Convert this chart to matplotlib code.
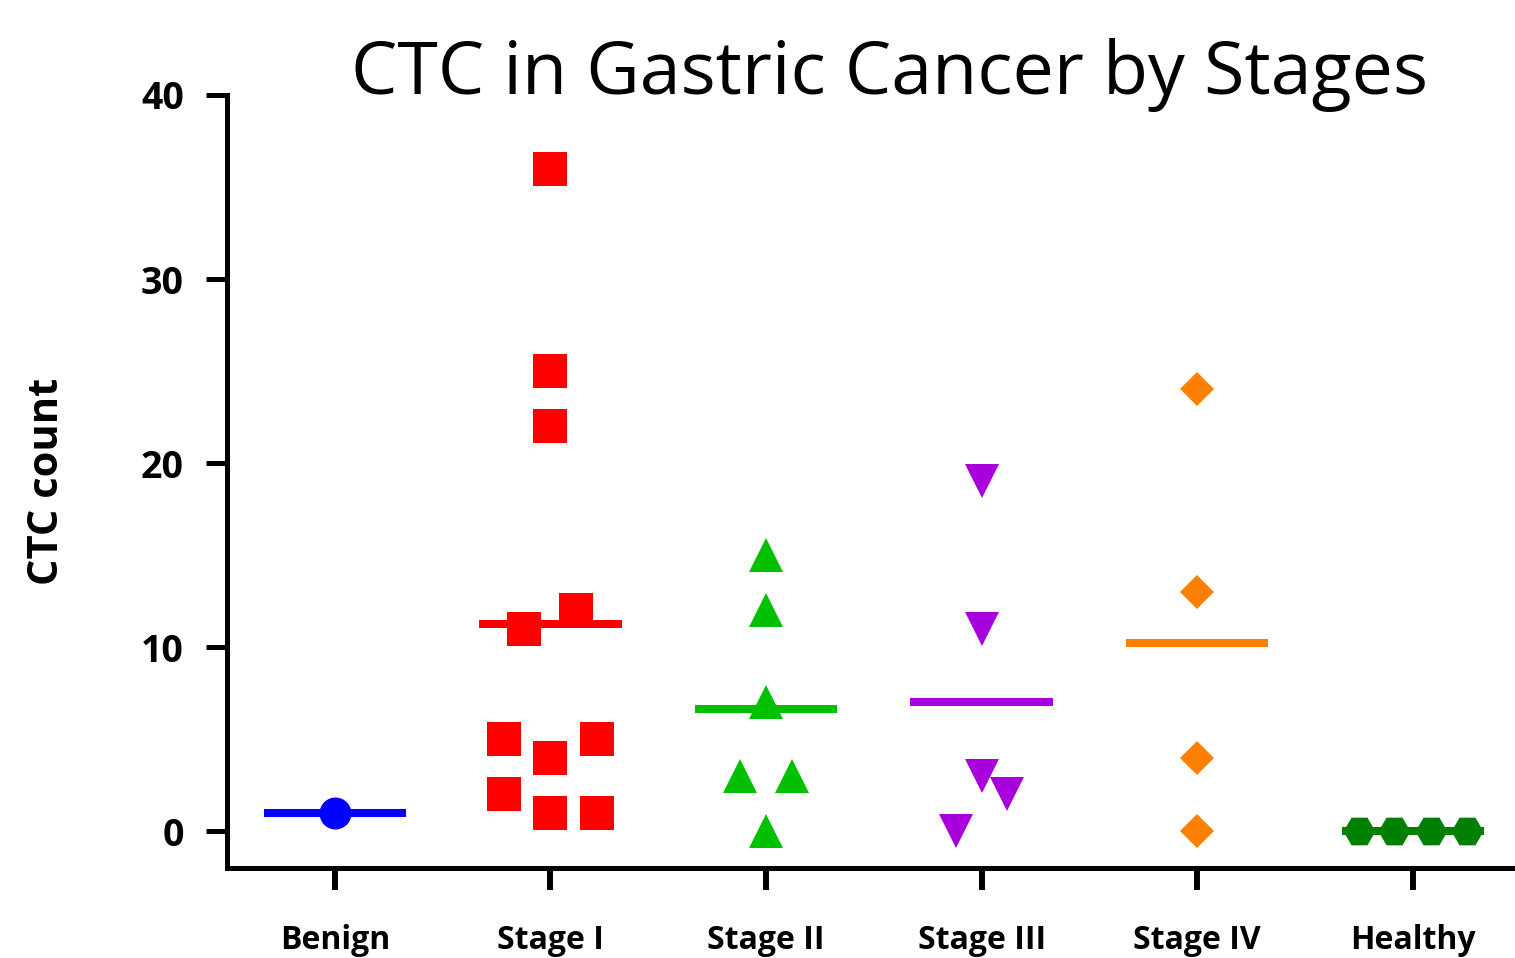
import numpy as np
import matplotlib.pyplot as plt

# CTC counts per group
categories = ['Benign', 'Stage I', 'Stage II', 'Stage III', 'Stage IV', 'Healthy']
benign = [1]
stage_1 = [36, 25, 22, 12, 11, 5, 5, 4, 2, 1, 1]
stage_2 = [15, 12, 7, 3, 3, 0]
stage_3 = [19, 11, 3, 2, 0]
stage_4 = [24, 13, 4, 0]
healthy = [0, 0, 0, 0]
y_ticks = [0, 10, 20, 30, 40]

# horizontal scatter of overlapping points (as in the scatter dot plot)
jitter_benign = [0]
jitter_1 = [0, 0, 0, 0.12, -0.12, -0.215, 0.215, 0, -0.215, 0, 0.215]
jitter_2 = [0, 0, 0, -0.12, 0.12, 0]
jitter_3 = [0, 0, 0, 0.12, -0.12]
jitter_4 = [0, 0, 0, 0]
jitter_h = [-0.25, -0.085, 0.085, 0.25]

groups = [benign, stage_1, stage_2, stage_3, stage_4, healthy]
jitters = [jitter_benign, jitter_1, jitter_2, jitter_3, jitter_4, jitter_h]
colors = ['#0000FF', '#FF0000', '#00C000', '#A800DC', '#FF8000', '#008000']
markers = ['o', 's', '^', 'v', 'D', 'H']
sizes = [23, 24.5, 25, 25, 17.5, 23]

fig = plt.figure(figsize=(15.15, 9.58), dpi=100)
ax = fig.add_axes([0.1498, 0.0939, 0.8482, 0.807])

for i, vals in enumerate(groups):
    xs = i + np.array(jitters[i])
    ax.plot(xs, vals, linestyle='none', marker=markers[i], markersize=sizes[i],
            color=colors[i], markeredgewidth=0, zorder=3)
    m = np.mean(vals)
    ax.plot([i - 0.33, i + 0.33], [m, m], color=colors[i], lw=5.8,
            solid_capstyle='butt', zorder=2)

ax.set_xlim(-0.5, 5.46)
ax.set_ylim(-2, 40)
ax.spines['top'].set_visible(False)
ax.spines['right'].set_visible(False)
ax.spines['left'].set_linewidth(3.6)
ax.spines['bottom'].set_linewidth(3.6)

ax.set_xticks(range(len(categories)))
ax.set_xticklabels(categories, fontsize=23, fontweight='bold', family='Open Sans')
ax.set_yticks(y_ticks)
ax.set_yticklabels([str(t) for t in y_ticks], fontsize=27, fontweight='bold',
                   family='Open Sans')
ax.tick_params(axis='y', length=15, width=3.6, pad=16)
ax.tick_params(axis='x', length=16, width=4.3, pad=24)

ax.set_ylabel('CTC count', fontsize=30, fontweight='bold', family='Open Sans')
ax.yaxis.set_label_coords(-0.124, 0.5)

fig.text(0.587, 1 - 94 / 958, 'CTC in Gastric Cancer by Stages',
         ha='center', va='baseline', fontsize=53, family='Open Sans')

fig.savefig('out.png', dpi=100)
